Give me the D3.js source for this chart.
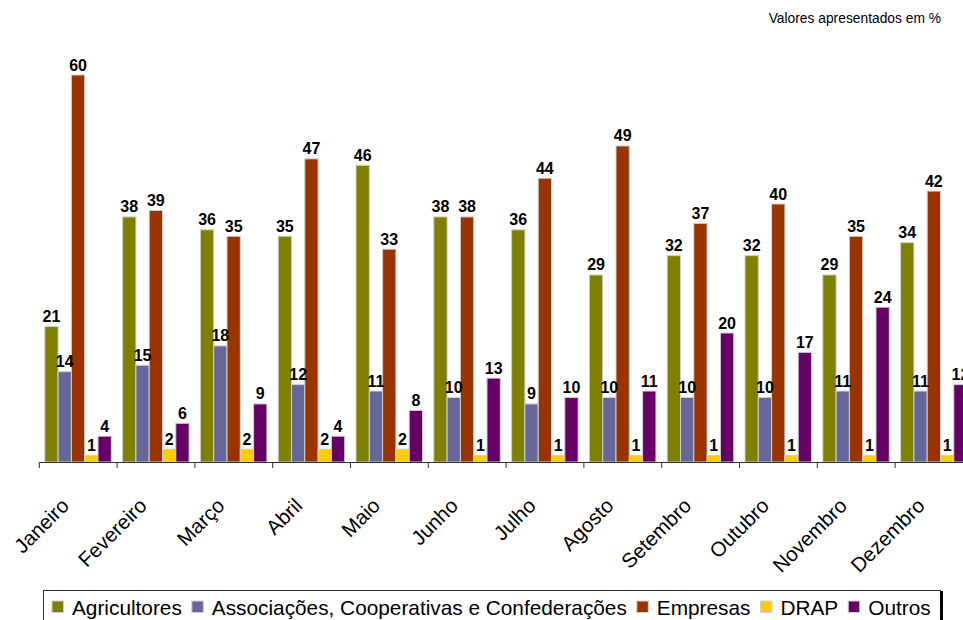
<!DOCTYPE html>
<html><head><meta charset="utf-8">
<script src="https://cdn.jsdelivr.net/npm/d3@7"></script>
<style>body{margin:0;background:#fff;} svg{display:block;font-family:"Liberation Sans",Arial,sans-serif;}</style>
</head><body>
<svg id="chart" width="963" height="620"></svg>
<script>
const months = ["Janeiro","Fevereiro","Março","Abril","Maio","Junho","Julho","Agosto","Setembro","Outubro","Novembro","Dezembro"];
const seriesNames = ["Agricultores","Associações, Cooperativas e Confederações","Empresas","DRAP","Outros"];
const agricultores = [21,38,36,35,46,38,36,29,32,32,29,34];
const associacoes  = [14,15,18,12,11,10,9,10,10,10,11,11];
const empresas     = [60,39,35,47,33,38,44,49,37,40,35,42];
const drap         = [1,2,2,2,2,1,1,1,1,1,1,1];
const outros       = [4,6,9,4,8,13,10,11,20,17,24,12];
const colors = ["#808000","#666699","#993300","#FFCC00","#660066"];
const seriesValues = [agricultores, associacoes, empresas, drap, outros];

const svg = d3.select("#chart");
const baseY = 462;
const x0 = d3.scaleBand().domain(months).range([39.3, 39.3 + 12*77.8]).padding(0);
const x1 = d3.scaleBand().domain(seriesNames).range([5.5, 72]).padding(0);
const y = d3.scaleLinear().domain([0, 60]).range([baseY, 75]);

const data = months.map((m, i) => ({month: m, vals: seriesNames.map((s, j) => ({s, j, v: seriesValues[j][i]}))}));

const groups = svg.append("g").selectAll("g").data(data).join("g")
  .attr("transform", d => `translate(${x0(d.month)},0)`);

groups.selectAll("rect").data(d => d.vals).join("rect")
  .attr("x", d => x1(d.s))
  .attr("y", d => y(d.v))
  .attr("width", x1.bandwidth())
  .attr("height", d => baseY - y(d.v))
  .attr("fill", d => colors[d.j])
  .attr("stroke", "#cfcfcf")
  .attr("stroke-width", 1);

groups.selectAll("text").data(d => d.vals).join("text")
  .attr("x", d => x1(d.s) + x1.bandwidth()/2)
  .attr("y", d => y(d.v) - 4.5)
  .attr("text-anchor", "middle")
  .attr("font-size", 16)
  .attr("font-weight", "bold")
  .attr("fill", "#000")
  .text(d => d.v);

// axis
const axis = svg.append("g").attr("transform", `translate(0,${baseY})`)
  .call(d3.axisBottom(x0).tickSize(0).tickFormat(""));
axis.select(".domain").attr("stroke", "#333").attr("d", `M${x0.range()[0]},0.5H${x0.range()[1]}`);
axis.selectAll(".tick").remove();
axis.selectAll("line.bt").data(months).join("line").attr("class","bt")
  .attr("x1", d => x0(d)).attr("x2", d => x0(d))
  .attr("y1", 0).attr("y2", 6).attr("stroke", "#333");

svg.append("g").selectAll("text").data(months).join("text")
  .attr("transform", d => `translate(${x0(d) + x0.bandwidth()/2 - 8},${baseY + 45}) rotate(-45)`)
  .attr("text-anchor", "end")
  .attr("font-size", 20.5)
  .attr("fill", "#000")
  .text(d => d);

// title
svg.append("text").attr("x", 941).attr("y", 23).attr("text-anchor", "end")
  .attr("font-size", 13.8).attr("fill", "#000").text("Valores apresentados em %");

// legend
const leg = svg.append("g");
leg.append("rect").attr("x", 43.5).attr("y", 590.5).attr("width", 897).attr("height", 40)
  .attr("fill", "#fff").attr("stroke", "#333").attr("stroke-width", 1);
leg.append("line").attr("x1", 941.5).attr("x2", 941.5).attr("y1", 591).attr("y2", 620)
  .attr("stroke", "#000").attr("stroke-width", 3);
let lx = 52;
seriesNames.forEach((s, j) => {
  leg.append("rect").attr("x", lx).attr("y", 601).attr("width", 11.5).attr("height", 11.5)
    .attr("fill", colors[j]).attr("stroke", "#cfcfcf");
  const t = leg.append("text").attr("x", lx + 20).attr("y", 614.5)
    .attr("font-size", 20.8).attr("fill", "#000").text(s);
  lx = lx + 20 + t.node().getComputedTextLength() + 10;
});
</script>
</body></html>
